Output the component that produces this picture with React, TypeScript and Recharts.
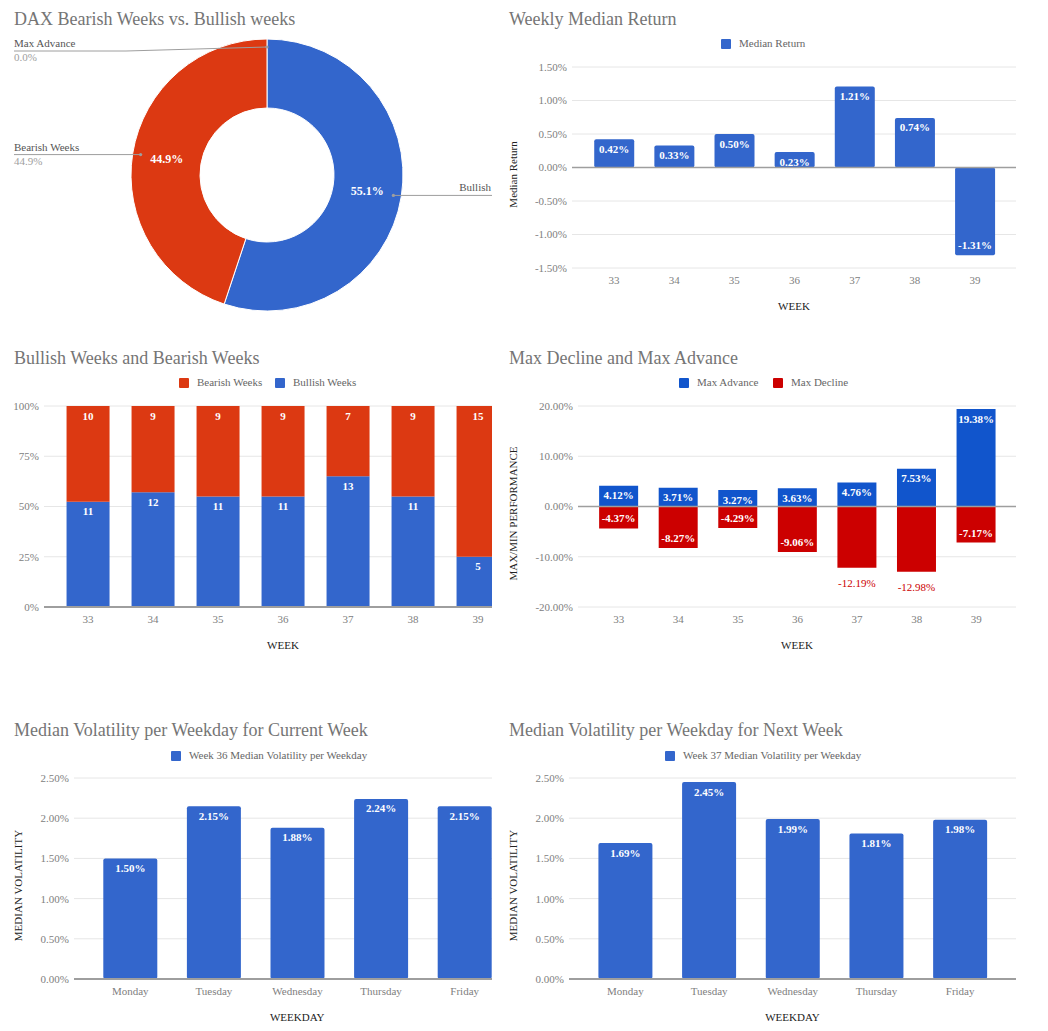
import React from 'react';
import {
  PieChart, Pie, Cell, BarChart, Bar, XAxis, YAxis, CartesianGrid, ReferenceLine, LabelList,
} from 'recharts';

const FONT = '"Liberation Serif", "Times New Roman", serif';

// ---- Donut ----
const pieNames = ['Bullish', 'Bearish Weeks', 'Max Advance'];
const pieValues = [55.1, 44.9, 0];
const pieColors = ['#3366cc', '#dc3912', '#ff9900'];

// ---- Weekly median return ----
const weeks = ['33', '34', '35', '36', '37', '38', '39'];
const medianReturn = [0.42, 0.33, 0.5, 0.23, 1.21, 0.74, -1.31];
const medianReturnTicks = [-1.5, -1, -0.5, 0, 0.5, 1, 1.5];

// ---- Bullish / Bearish weeks ----
const bullishWeeks = [11, 12, 11, 11, 13, 11, 5];
const bearishWeeks = [10, 9, 9, 9, 7, 9, 15];
const shareTicks = [0, 0.25, 0.5, 0.75, 1];

// ---- Max advance / decline ----
const maxAdvance = [4.12, 3.71, 3.27, 3.63, 4.76, 7.53, 19.38];
const maxDecline = [-4.37, -8.27, -4.29, -9.06, -12.19, -12.98, -7.17];
const perfTicks = [-20, -10, 0, 10, 20];

// ---- Volatility ----
const weekdays = ['Monday', 'Tuesday', 'Wednesday', 'Thursday', 'Friday'];
const volCurrent = [1.5, 2.15, 1.88, 2.24, 2.15];
const volNext = [1.69, 2.45, 1.99, 1.81, 1.98];
const volTicks = [0, 0.5, 1, 1.5, 2, 2.5];

const pieData = pieNames.map((name, i) => ({ name, value: pieValues[i] }));
const returnData = weeks.map((week, i) => ({ week, ret: medianReturn[i] }));
const countData = weeks.map((week, i) => ({ week, bullish: bullishWeeks[i], bearish: bearishWeeks[i] }));
const perfData = weeks.map((week, i) => ({ week, adv: maxAdvance[i], dec: maxDecline[i] }));
const volCurData = weekdays.map((day, i) => ({ day, vol: volCurrent[i] }));
const volNextData = weekdays.map((day, i) => ({ day, vol: volNext[i] }));

const pct2 = (v: number) => `${v.toFixed(2)}%`;
const tickStyle = { fill: '#808080', fontSize: 11 };
const GRID = '#e6e6e6';
const BASE = '#9e9e9e';

const Title = ({ x, baseline, text }: { x: number; baseline: number; text: string }) => (
  <div style={{ position: 'absolute', left: x, top: baseline - 15, fontSize: 18, lineHeight: '18px', color: '#757575', whiteSpace: 'nowrap' }}>
    {text}
  </div>
);

const Legend2 = ({ yc, items }: { yc: number; items: { x: number; label: string; color: string }[] }) => (
  <>
    {items.map((it) => (
      <React.Fragment key={it.label}>
        <div style={{ position: 'absolute', left: it.x, top: yc - 5, width: 10, height: 10, background: it.color, borderRadius: 1 }} />
        <div style={{ position: 'absolute', left: it.x + 18, top: yc - 5.6, fontSize: 11, lineHeight: '11px', color: '#666', whiteSpace: 'nowrap' }}>
          {it.label}
        </div>
      </React.Fragment>
    ))}
  </>
);

const yTitle = (text: string, dx: number) => (props: any) => {
  const vb = props.viewBox || {};
  const x = (vb.x ?? 0) + dx;
  const y = (vb.y ?? 0) + (vb.height ?? 0) / 2 + 7;
  return (
    <text x={x} y={y} transform={`rotate(-90, ${x}, ${y})`} textAnchor="middle" dominantBaseline="central" fill="#222" fontSize={11}>
      {text}
    </text>
  );
};

const valueLabel = (fmt: (v: number) => string, outsideBelow?: number) => (props: any) => {
  const { value } = props;
  if (value === undefined || value === null) return null;
  const x = Number(props.x), y = Number(props.y), w = Number(props.width), h = Number(props.height);
  const top = Math.min(y, y + h);
  const bottom = Math.max(y, y + h);
  const cx = x + w / 2;
  const v = Number(value);
  if (v >= 0) {
    return <text x={cx} y={top + 13.5} textAnchor="middle" fill="#fff" fontSize={11} fontWeight="bold">{fmt(v)}</text>;
  }
  if (outsideBelow !== undefined && v < outsideBelow) {
    return <text x={cx} y={bottom + 19.5} textAnchor="middle" fill="#cc0000" fontSize={11}>{fmt(v)}</text>;
  }
  return <text x={cx} y={bottom - 6} textAnchor="middle" fill="#fff" fontSize={11} fontWeight="bold">{fmt(v)}</text>;
};

const RAD = Math.PI / 180;
const renderPieLabel = (p: any) => {
  const { cx, cy, midAngle, innerRadius, outerRadius, percent, name } = p;
  const cos = Math.cos(-midAngle * RAD);
  const sin = Math.sin(-midAngle * RAD);
  const rMid = (innerRadius + outerRadius) / 2;
  const dotR = outerRadius - 8;
  const dx = cx + dotR * cos;
  const dy = cy + dotR * sin;
  const right = cos > 0.001;
  const lineY = Math.max(dy, cy - outerRadius + 12);
  const elbowX = right ? cx + outerRadius + 5 : cx - outerRadius - 5;
  const endX = right ? 492 : 14;
  const pctText = `${(percent * 100).toFixed(1)}%`;
  return (
    <g>
      {percent > 0 && (
        <text x={cx + rMid * cos} y={cy + rMid * sin} textAnchor="middle" dominantBaseline="central" fill="#fff" fontSize={12} fontWeight="bold">
          {pctText}
        </text>
      )}
      <polyline points={`${dx},${dy} ${elbowX},${lineY} ${endX},${lineY}`} fill="none" stroke="#9e9e9e" strokeWidth={1} />
      <circle cx={dx} cy={dy} r={1.6} fill="#9e9e9e" />
      {right ? (
        <text x={491} y={lineY - 4} textAnchor="end" fill="#555" fontSize={11}>{name}</text>
      ) : (
        <>
          <text x={14} y={lineY - 4} fill="#555" fontSize={11}>{name}</text>
          <text x={14} y={lineY + 10} fill="#9e9e9e" fontSize={11}>{pctText}</text>
        </>
      )}
    </g>
  );
};

const panel = (left: number, top: number, width: number, height: number): React.CSSProperties => ({
  position: 'absolute', left, top, width, height, overflow: 'hidden',
});

export default function App() {
  return (
    <div style={{ position: 'absolute', left: 0, top: 0, width: 1048, height: 1031, background: '#fff', fontFamily: FONT, overflow: 'hidden' }}>
      {/* Donut */}
      <div style={panel(0, 0, 492, 320)}>
        <PieChart width={492} height={320} margin={{ top: 0, right: 0, bottom: 0, left: 0 }}>
          <Pie
            data={pieData}
            dataKey="value"
            nameKey="name"
            cx={267}
            cy={175}
            innerRadius={67}
            outerRadius={136}
            startAngle={90}
            endAngle={-270}
            stroke="#fff"
            strokeWidth={1}
            label={renderPieLabel}
            labelLine={false}
            isAnimationActive={false}
          >
            {pieData.map((d, i) => <Cell key={d.name} fill={pieColors[i]} />)}
          </Pie>
        </PieChart>
      </div>
      <Title x={14} baseline={25} text="DAX Bearish Weeks vs. Bullish weeks" />

      {/* Weekly Median Return */}
      <div style={panel(500, 0, 548, 320)}>
        <BarChart width={548} height={320} data={returnData} margin={{ top: 67, right: 32, bottom: 0, left: 0 }} barCategoryGap="17%">
          <CartesianGrid vertical={false} stroke={GRID} />
          <XAxis dataKey="week" axisLine={false} tickLine={false} tick={tickStyle} height={52} padding={{ left: 12, right: 11 }} interval={0}
            label={{ value: 'WEEK', position: 'insideBottom', offset: 10, fill: '#222', fontSize: 11 }} />
          <YAxis width={72} domain={[-1.5, 1.5]} ticks={medianReturnTicks} tickFormatter={pct2} axisLine={false} tickLine={false} tickSize={3} tickMargin={2} tick={tickStyle}
            label={{ value: 'Median Return', content: yTitle('Median Return', 13) }} />
          <ReferenceLine y={0} stroke={BASE} strokeWidth={1.5} />
          <Bar dataKey="ret" fill="#3366cc" radius={2} isAnimationActive={false}>
            <LabelList dataKey="ret" content={valueLabel(pct2)} />
          </Bar>
        </BarChart>
      </div>
      <Title x={509} baseline={25} text="Weekly Median Return" />
      <Legend2 yc={44} items={[{ x: 721, label: 'Median Return', color: '#3366cc' }]} />

      {/* Bullish / Bearish */}
      <div style={panel(0, 340, 492, 320)}>
        <BarChart width={540} height={320} data={countData} stackOffset="expand" margin={{ top: 66, right: 18, bottom: 0, left: 0 }} barCategoryGap="17%">
          <CartesianGrid vertical={false} stroke={GRID} />
          <XAxis dataKey="week" axisLine={{ stroke: BASE, strokeWidth: 2 }} tickLine={false} tick={tickStyle} height={53} padding={{ left: 11.5, right: 11.5 }} interval={0}
            label={{ value: 'WEEK', position: 'insideBottom', offset: 11, fill: '#222', fontSize: 11 }} />
          <YAxis width={44} domain={[0, 1]} ticks={shareTicks} tickFormatter={(v: number) => `${Math.round(v * 100)}%`} axisLine={false} tickLine={false} tickSize={3} tickMargin={2} tick={tickStyle} />
          <Bar dataKey="bullish" stackId="a" fill="#3366cc" isAnimationActive={false}>
            <LabelList dataKey="bullish" content={valueLabel((v) => String(v))} />
          </Bar>
          <Bar dataKey="bearish" stackId="a" fill="#dc3912" isAnimationActive={false}>
            <LabelList dataKey="bearish" content={valueLabel((v) => String(v))} />
          </Bar>
        </BarChart>
      </div>
      <Title x={14} baseline={364} text="Bullish Weeks and Bearish Weeks" />
      <Legend2 yc={383} items={[
        { x: 179, label: 'Bearish Weeks', color: '#dc3912' },
        { x: 275, label: 'Bullish Weeks', color: '#3366cc' },
      ]} />

      {/* Max Decline / Advance */}
      <div style={panel(500, 340, 548, 320)}>
        <BarChart width={548} height={320} data={perfData} stackOffset="sign" margin={{ top: 66, right: 32, bottom: 0, left: 0 }} barCategoryGap="17%">
          <CartesianGrid vertical={false} stroke={GRID} />
          <XAxis dataKey="week" axisLine={false} tickLine={false} tick={tickStyle} height={53} padding={{ left: 11, right: 10 }} interval={0}
            label={{ value: 'WEEK', position: 'insideBottom', offset: 11, fill: '#222', fontSize: 11 }} />
          <YAxis width={78} domain={[-20, 20]} ticks={perfTicks} tickFormatter={pct2} axisLine={false} tickLine={false} tickSize={3} tickMargin={2} tick={tickStyle}
            label={{ value: 'MAX/MIN PERFORMANCE', content: yTitle('MAX/MIN PERFORMANCE', 13) }} />
          <ReferenceLine y={0} stroke={BASE} strokeWidth={1.5} />
          <Bar dataKey="adv" stackId="p" fill="#1155cc" isAnimationActive={false}>
            <LabelList dataKey="adv" content={valueLabel(pct2)} />
          </Bar>
          <Bar dataKey="dec" stackId="p" fill="#cc0000" isAnimationActive={false}>
            <LabelList dataKey="dec" content={valueLabel(pct2, -10)} />
          </Bar>
        </BarChart>
      </div>
      <Title x={509} baseline={364} text="Max Decline and Max Advance" />
      <Legend2 yc={383} items={[
        { x: 679, label: 'Max Advance', color: '#1155cc' },
        { x: 773, label: 'Max Decline', color: '#cc0000' },
      ]} />

      {/* Volatility current week */}
      <div style={panel(0, 710, 492, 321)}>
        <BarChart width={540} height={321} data={volCurData} margin={{ top: 68, right: 19.5, bottom: 0, left: 0 }} barCategoryGap="17.7%">
          <CartesianGrid vertical={false} stroke={GRID} />
          <XAxis dataKey="day" axisLine={{ stroke: BASE, strokeWidth: 2 }} tickLine={false} tick={tickStyle} height={52} padding={{ left: 14.5, right: 14 }} interval={0}
            label={{ value: 'WEEKDAY', position: 'insideBottom', offset: 10, fill: '#222', fontSize: 11 }} />
          <YAxis width={74} domain={[0, 2.5]} ticks={volTicks} tickFormatter={pct2} axisLine={false} tickLine={false} tickSize={3} tickMargin={2} tick={tickStyle}
            label={{ value: 'MEDIAN VOLATILITY', content: yTitle('MEDIAN VOLATILITY', 18) }} />
          <Bar dataKey="vol" fill="#3366cc" radius={2} isAnimationActive={false}>
            <LabelList dataKey="vol" content={valueLabel(pct2)} />
          </Bar>
        </BarChart>
      </div>
      <Title x={14} baseline={736} text="Median Volatility per Weekday for Current Week" />
      <Legend2 yc={756} items={[{ x: 171, label: 'Week 36 Median Volatility per Weekday', color: '#3366cc' }]} />

      {/* Volatility next week */}
      <div style={panel(500, 710, 548, 321)}>
        <BarChart width={548} height={321} data={volNextData} margin={{ top: 68, right: 32, bottom: 0, left: 0 }} barCategoryGap="17.7%">
          <CartesianGrid vertical={false} stroke={GRID} />
          <XAxis dataKey="day" axisLine={{ stroke: BASE, strokeWidth: 2 }} tickLine={false} tick={tickStyle} height={52} padding={{ left: 14.6, right: 14 }} interval={0}
            label={{ value: 'WEEKDAY', position: 'insideBottom', offset: 10, fill: '#222', fontSize: 11 }} />
          <YAxis width={69} domain={[0, 2.5]} ticks={volTicks} tickFormatter={pct2} axisLine={false} tickLine={false} tickSize={3} tickMargin={2} tick={tickStyle}
            label={{ value: 'MEDIAN VOLATILITY', content: yTitle('MEDIAN VOLATILITY', 13) }} />
          <Bar dataKey="vol" fill="#3366cc" radius={2} isAnimationActive={false}>
            <LabelList dataKey="vol" content={valueLabel(pct2)} />
          </Bar>
        </BarChart>
      </div>
      <Title x={509} baseline={736} text="Median Volatility per Weekday for Next Week" />
      <Legend2 yc={756} items={[{ x: 665, label: 'Week 37 Median Volatility per Weekday', color: '#3366cc' }]} />
    </div>
  );
}
